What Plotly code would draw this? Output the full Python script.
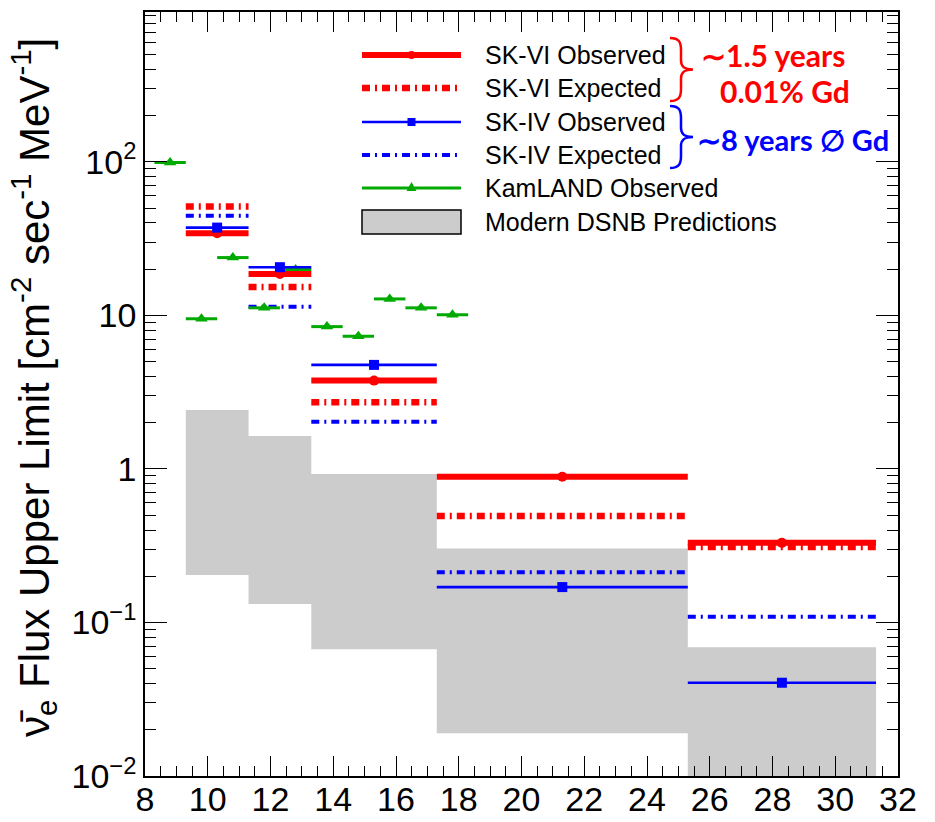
import plotly.graph_objects as go

# ---------------- data ----------------
bin_edges = [9.3, 11.3, 13.3, 17.3, 25.3, 31.3]
skvi_obs = [34.3, 18.6, 3.76, 0.89, 0.33]
skvi_exp = [51.2, 15.3, 2.72, 0.494, 0.31]
skiv_obs = [37.3, 20.6, 4.76, 0.170, 0.0405]
skiv_exp = [44.5, 11.4, 2.03, 0.212, 0.109]
dsnb_low = [0.204, 0.132, 0.067, 0.019, 0.005]
dsnb_high = [2.42, 1.64, 0.927, 0.303, 0.069]

kam_edges = [8.3, 9.3, 10.3, 11.3, 12.3, 13.3, 14.3, 15.3, 16.3, 17.3, 18.3]
kam_obs = [99, 9.5, 23.8, 11.2, 19.9, 8.45, 7.3, 12.8, 11.2, 10.1]

x_ticks = list(range(8, 33, 2))
y_tickvals = [0.01, 0.1, 1, 10, 100]
y_ticktext = ["10<sup>\u22122</sup>", "10<sup>\u22121</sup>", "1", "10", "10<sup>2</sup>"]

legend_labels = ["SK-VI Observed", "SK-VI Expected", "SK-IV Observed",
                 "SK-IV Expected", "KamLAND Observed", "Modern DSNB Predictions"]

RED = "#ff0000"
BLUE = "#0000ff"
GREEN = "#00aa00"
GRAY = "#cccccc"
DASHDOT = "8px,5px,2px,5px"
FONT = "Liberation Sans"


def segments(edges, vals):
    xs, ys = [], []
    for i, v in enumerate(vals):
        xs += [edges[i], edges[i + 1], None]
        ys += [v, v, None]
    return xs, ys


def centers(edges, n):
    return [(edges[i] + edges[i + 1]) / 2 for i in range(n)]


fig = go.Figure()

# DSNB band polygon
px_, py_ = [], []
for i in range(len(dsnb_high)):
    px_ += [bin_edges[i], bin_edges[i + 1]]
    py_ += [dsnb_high[i], dsnb_high[i]]
for i in reversed(range(len(dsnb_low))):
    px_ += [bin_edges[i + 1], bin_edges[i]]
    py_ += [dsnb_low[i], dsnb_low[i]]
fig.add_trace(go.Scatter(x=px_, y=py_, fill="toself", fillcolor=GRAY,
                         line=dict(width=0, color=GRAY), mode="lines",
                         hoverinfo="skip", showlegend=False))

# expected lines
x, y = segments(bin_edges, skiv_exp)
fig.add_trace(go.Scatter(x=x, y=y, mode="lines",
                         line=dict(color=BLUE, width=4, dash=DASHDOT), showlegend=False))
x, y = segments(bin_edges, skvi_exp)
fig.add_trace(go.Scatter(x=x, y=y, mode="lines",
                         line=dict(color=RED, width=6.5, dash=DASHDOT), showlegend=False))

# KamLAND
x, y = segments(kam_edges, kam_obs)
fig.add_trace(go.Scatter(x=x, y=y, mode="lines",
                         line=dict(color=GREEN, width=3), showlegend=False))
fig.add_trace(go.Scatter(x=centers(kam_edges, len(kam_obs)), y=kam_obs, mode="markers",
                         marker=dict(symbol="triangle-up", size=11, color=GREEN),
                         showlegend=False))

# observed lines
x, y = segments(bin_edges, skvi_obs)
fig.add_trace(go.Scatter(x=x, y=y, mode="lines",
                         line=dict(color=RED, width=6), showlegend=False))
fig.add_trace(go.Scatter(x=centers(bin_edges, len(skvi_obs)), y=skvi_obs, mode="markers",
                         marker=dict(symbol="circle", size=10, color=RED), showlegend=False))
x, y = segments(bin_edges, skiv_obs)
fig.add_trace(go.Scatter(x=x, y=y, mode="lines",
                         line=dict(color=BLUE, width=2.6), showlegend=False))
fig.add_trace(go.Scatter(x=centers(bin_edges, len(skiv_obs)), y=skiv_obs, mode="markers",
                         marker=dict(symbol="square", size=10, color=BLUE), showlegend=False))

# ---------------- layout / manual legend ----------------
L, R, T, B = 145, 898, 12, 776
W, H = R - L, B - T


def pxx(v):
    return (v - L) / W


def pyy(v):
    return (B - v) / H


shapes = []
annotations = []
rows = [55, 88, 122, 155, 188, 222]
lx0, lx1 = 362, 461
lmid = (lx0 + lx1) / 2
styles = [
    dict(color=RED, width=6),
    dict(color=RED, width=6.5, dash=DASHDOT),
    dict(color=BLUE, width=2.6),
    dict(color=BLUE, width=4, dash=DASHDOT),
    dict(color=GREEN, width=3),
]
for r, st in zip(rows[:5], styles):
    shapes.append(dict(type="line", xref="paper", yref="paper",
                       x0=pxx(lx0), x1=pxx(lx1), y0=pyy(r), y1=pyy(r), line=st))
# legend markers
shapes.append(dict(type="circle", xref="paper", yref="paper",
                   x0=pxx(lmid - 4), x1=pxx(lmid + 4), y0=pyy(rows[0] + 4), y1=pyy(rows[0] - 4),
                   fillcolor=RED, line=dict(width=0)))
shapes.append(dict(type="rect", xref="paper", yref="paper",
                   x0=pxx(lmid - 4), x1=pxx(lmid + 4), y0=pyy(rows[2] + 4), y1=pyy(rows[2] - 4),
                   fillcolor=BLUE, line=dict(width=0)))
tri = "M {} {} L {} {} L {} {} Z".format(pxx(lmid - 5), pyy(rows[4] + 3), pxx(lmid + 5),
                                           pyy(rows[4] + 3), pxx(lmid), pyy(rows[4] - 6))
shapes.append(dict(type="path", xref="paper", yref="paper", path=tri,
                   fillcolor=GREEN, line=dict(width=0)))
shapes.append(dict(type="rect", xref="paper", yref="paper",
                   x0=pxx(lx0), x1=pxx(lx1), y0=pyy(rows[5] + 12), y1=pyy(rows[5] - 12),
                   fillcolor=GRAY, line=dict(color="black", width=1.5)))

for r, lab in zip(rows, legend_labels):
    annotations.append(dict(xref="paper", yref="paper", x=pxx(483), y=pyy(r),
                            xanchor="left", yanchor="middle", text=lab, showarrow=False,
                            font=dict(family=FONT, size=25, color="black")))


def brace(x0, top, bot, tip, color):
    mid = (top + bot) / 2
    xb = x0 + 11
    pts = [
        ("M", [(x0, top)]),
        ("C", [(x0 + 9, top), (xb, top + 4), (xb, top + 12)]),
        ("L", [(xb, mid - 9)]),
        ("C", [(xb, mid - 3), (xb + 3, mid), (tip, mid)]),
        ("C", [(xb + 3, mid), (xb, mid + 3), (xb, mid + 9)]),
        ("L", [(xb, bot - 12)]),
        ("C", [(xb, bot - 4), (x0 + 9, bot), (x0, bot)]),
    ]
    s = ""
    for cmd, ps in pts:
        s += cmd + " " + " ".join("{:.5f},{:.5f}".format(pxx(a), pyy(b)) for a, b in ps) + " "
    return dict(type="path", xref="paper", yref="paper", path=s.strip(),
                line=dict(color=color, width=2.5))


shapes.append(brace(670, 38, 101, 693, RED))
shapes.append(brace(670, 106, 168, 693, BLUE))

annotations.append(dict(xref="paper", yref="paper", x=pxx(773), y=pyy(55), text="\u223c1.5 years",
                        showarrow=False, xanchor="center", yanchor="middle",
                        font=dict(family="Lato", size=30, color=RED, weight="bold")))
annotations.append(dict(xref="paper", yref="paper", x=pxx(785), y=pyy(91), text="0.01% Gd",
                        showarrow=False, xanchor="center", yanchor="middle",
                        font=dict(family="Lato", size=30, color=RED, weight="bold")))
annotations.append(dict(xref="paper", yref="paper", x=pxx(793), y=pyy(140), text="\u223c8 years \u2205 Gd",
                        showarrow=False, xanchor="center", yanchor="middle",
                        font=dict(family="Lato", size=29, color=BLUE, weight="bold")))

# y-axis title
annotations.append(dict(xref="paper", yref="paper", x=pxx(33), y=pyy(388), textangle=-90,
                        text="\u03bd\u0304<sub>e</sub> Flux Upper Limit [cm<sup>-2</sup> sec<sup>-1</sup> MeV<sup>-1</sup>]",
                        showarrow=False, xanchor="center", yanchor="middle",
                        font=dict(family=FONT, size=42, color="black")))

minor_y = [k * 10.0 ** e for e in range(-2, 3) for k in range(2, 10)]

fig.update_layout(
    template="none",
    width=935, height=822,
    margin=dict(l=L, r=935 - R, t=T, b=822 - B, pad=0),
    paper_bgcolor="white", plot_bgcolor="white",
    showlegend=False,
    shapes=shapes, annotations=annotations,
    font=dict(family=FONT, color="black"),
    xaxis=dict(range=[8, 32], tickvals=x_ticks, ticks="inside", ticklen=20, tickwidth=1.3,
               tickcolor="black", showline=True, linecolor="black", linewidth=1.5,
               mirror="allticks", showgrid=False, zeroline=False, automargin=False,
               ticklabelstandoff=-8,
               tickfont=dict(size=34, family=FONT),
               minor=dict(ticks="inside", ticklen=10, dtick=0.5, tick0=8, tickcolor="black",
                          tickwidth=1.2, showgrid=False)),
    yaxis=dict(type="log", range=[-2, 2.976], tickvals=y_tickvals, ticktext=y_ticktext,
               ticks="inside", ticklen=22, tickwidth=1.3, tickcolor="black",
               showline=True, linecolor="black", linewidth=1.5, mirror="allticks",
               showgrid=False, zeroline=False, automargin=False,
               tickfont=dict(size=34, family=FONT),
               minor=dict(ticks="inside", ticklen=11, tickmode="array", tickvals=minor_y,
                          tickcolor="black", tickwidth=1.2, showgrid=False)),
)

fig.write_html("out.html")
